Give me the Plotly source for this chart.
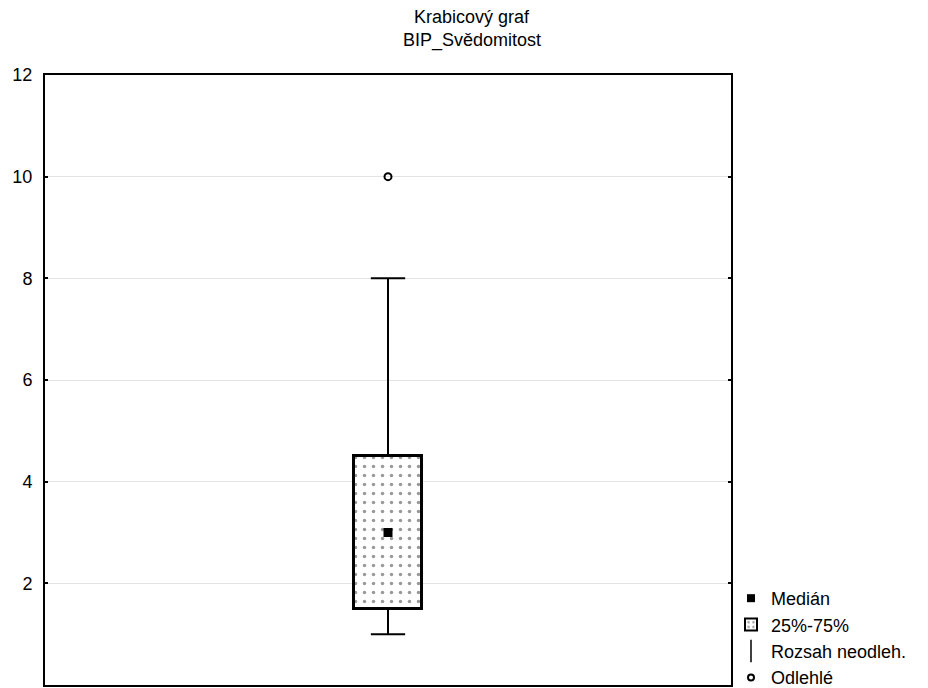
import plotly.graph_objects as go

# Box-plot summary values
category_x = [0.5]
q1 = [1.5]
median = [3.0]
q3 = [4.5]
whisker_low = [1.0]
whisker_high = [8.0]
outliers = [10.0]
y_ticks = [0, 2, 4, 6, 8, 10, 12]
legend_names = ["Medián", "25%-75%", "Rozsah neodleh.", "Odlehlé"]
title_lines = ["Krabicový graf", "BIP_Svědomitost"]

box_w = 0.1
cap_w = 0.05

fig = go.Figure()

# whiskers (stems + caps)
wx, wy = [], []
for x, lo, a, b, hi in zip(category_x, whisker_low, q1, q3, whisker_high):
    wx += [x, x, None, x, x, None, x - cap_w / 2, x + cap_w / 2, None, x - cap_w / 2, x + cap_w / 2, None]
    wy += [lo, a, None, b, hi, None, lo, lo, None, hi, hi, None]
fig.add_trace(go.Scatter(x=wx, y=wy, mode="lines", line=dict(color="black", width=2),
                         showlegend=False, hoverinfo="skip"))

# box
fig.add_trace(go.Bar(x=category_x, base=q1, y=[b - a for a, b in zip(q1, q3)], width=box_w,
                     name=legend_names[1],
                     marker=dict(color="white", line=dict(color="black", width=3),
                                 pattern=dict(shape=".", fgcolor="#333333", bgcolor="white",
                                              size=9, solidity=0.12)),
                     showlegend=False))

# median
fig.add_trace(go.Scatter(x=category_x, y=median, mode="markers", name=legend_names[0],
                         marker=dict(symbol="square", size=9, color="black"), showlegend=False))

# outliers
fig.add_trace(go.Scatter(x=category_x * len(outliers), y=outliers, mode="markers", name=legend_names[3],
                         marker=dict(symbol="circle-open", size=7, color="black", line=dict(width=2)),
                         showlegend=False))

# legend entries
fig.add_trace(go.Scatter(x=[None], y=[None], mode="markers", name=legend_names[0],
                         marker=dict(symbol="square", size=8, color="black")))
fig.add_trace(go.Bar(x=[None], y=[None], name=legend_names[1],
                     marker=dict(color="white", line=dict(color="black", width=2),
                                 pattern=dict(shape=".", fgcolor="#333333", bgcolor="white",
                                              size=6, solidity=0.2))))
fig.add_trace(go.Scatter(x=[None], y=[None], mode="markers", name=legend_names[2],
                         marker=dict(symbol="line-ns-open", size=17, color="black", line=dict(width=1.5))))
fig.add_trace(go.Scatter(x=[None], y=[None], mode="markers", name=legend_names[3],
                         marker=dict(symbol="circle-open", size=6, color="black", line=dict(width=2))))

fig.update_layout(
    width=928, height=688,
    margin=dict(l=45, r=197, t=75, b=3, autoexpand=False),
    paper_bgcolor="white", plot_bgcolor="white",
    font=dict(family="Liberation Sans, Arial, sans-serif", color="black", size=17),
    showlegend=True,
    legend=dict(x=1.0, xanchor="left", y=-0.018, yanchor="bottom",
                bgcolor="rgba(0,0,0,0)", font=dict(size=18), itemwidth=30, tracegroupgap=0),
    bargap=0,
    annotations=[
        dict(text=title_lines[0], xref="paper", yref="paper", x=0.622, y=1.0, yshift=58,
             xanchor="center", yanchor="middle", showarrow=False, font=dict(size=18)),
        dict(text=title_lines[1], xref="paper", yref="paper", x=0.622, y=1.0, yshift=35,
             xanchor="center", yanchor="middle", showarrow=False, font=dict(size=18)),
    ],
)
fig.update_xaxes(range=[0, 1], showticklabels=False, ticks="", showgrid=False, zeroline=False,
                 showline=True, linecolor="black", linewidth=2, mirror=True)
fig.update_yaxes(range=[0, 12], tickvals=y_ticks, ticks="inside", ticklen=3, tickwidth=2,
                 tickcolor="black", showgrid=True, gridcolor="#e3e3e3", gridwidth=1, zeroline=False,
                 showline=True, linecolor="black", linewidth=2, mirror="ticks", automargin=False,
                 ticklabelstandoff=7, tickfont=dict(size=18))

fig.write_html("out.html", config={"displayModeBar": False},
               post_script="document.body.style.margin='0px';")
